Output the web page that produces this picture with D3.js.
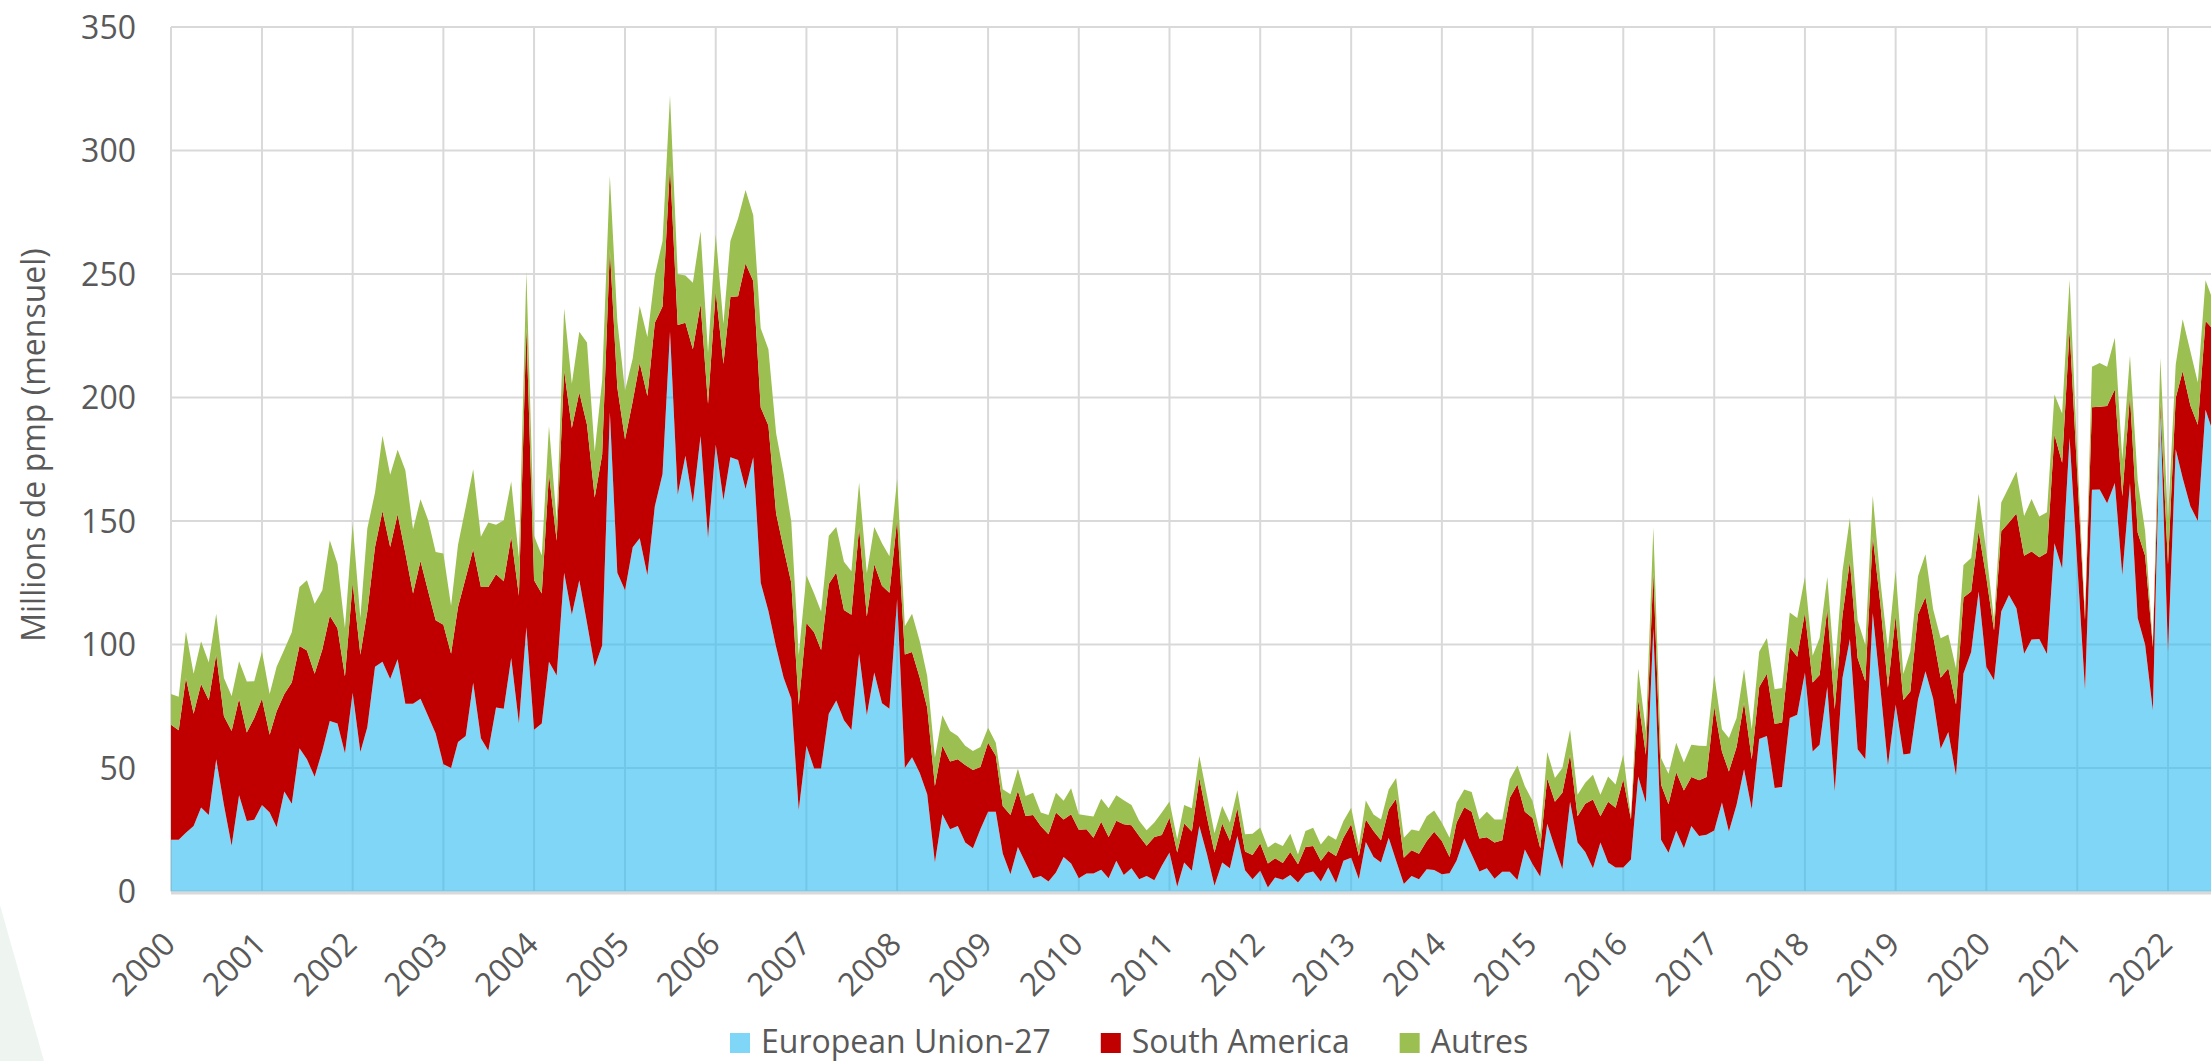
<!DOCTYPE html>
<html><head><meta charset="utf-8">
<script src="https://cdn.jsdelivr.net/npm/d3@7"></script>
<style>
html,body{margin:0;padding:0;background:#fff;}
svg{display:block;}
text{font-family:"Open Sans",sans-serif;fill:#595959;}
</style></head>
<body>
<svg id="chart" width="2211" height="1061"></svg>
<script>
// ---- DATA (monthly, Jan 2000 onward) ----
const startYear = 2000;
const seriesNames = ["European Union-27", "South America", "Autres"];
const seriesColors = ["#2ABBF2", "#C00000", "#9BBF50"];
const yTicks = [0, 50, 100, 150, 200, 250, 300, 350];
const xTickYears = [2000,2001,2002,2003,2004,2005,2006,2007,2008,2009,2010,2011,2012,2013,2014,2015,2016,2017,2018,2019,2020,2021,2022];

const eu27 = [
21,21,23.8,26.5,34,31,53.5,35,18.5,39,28.5,29,
35,32,26,40.5,35.5,58,53.5,46.5,57,69,68,56,
80.5,56.5,66.5,91,93,86,94,76,76,78,71,64,
51.5,50,60.5,63,84.5,62,57,74.5,74,94.5,68,107,
65.5,68,93,87.5,129,112,126,108.7,91,99.6,194,129,
122,139.4,143,128,156,169,226.6,160.6,176.4,157.4,184.4,143,
181,158.4,175.8,174.7,163,175.8,125,113.6,99,86.6,78,33,
59,49.8,49.8,72,77.3,69.3,65.4,96.3,71.4,88.7,76.2,74,
118.4,50,54.4,48,39.4,11.7,31.3,25.2,26.5,19.8,17.5,25.2,
32.3,32.3,15.4,7,18,11.5,5.4,6.3,4,7.7,14,11.3,
5.4,7.3,7.3,8.8,5.4,12.4,6.7,9.4,5,6.3,4.6,10.4,
15.8,1.9,11.7,8.4,26.5,15,2.3,11.7,9.4,22.5,8.6,5,
8.4,1.6,5.7,4.8,6.7,3.6,7.3,8.1,4,9.7,3.4,12.4,
13.7,5,20,14,11.7,21.8,12.4,3,6.3,5,9,8.7,
7,7.4,12.4,21.5,15,8.1,9.4,5.2,8,8,4.7,17,
11,6,27.4,17.7,9,36.3,19.8,16,9.4,19.8,11.7,9.7,
9.7,13,46.6,35.9,106.5,21,15.7,24.6,17.5,26.5,22.5,23,
24.7,36,24.3,35.1,49.5,33.3,61.7,63,41.9,42.3,70.2,71.6,
88.7,56.7,59.4,82.8,40.5,86.4,102.2,57.6,53.5,112.8,82,51,
75.7,55.5,55.9,77.6,89.2,78,57.8,64.6,46.9,88.3,97,121.5,
90.9,85.5,113.4,120,114.7,96.3,102,102.2,96.2,141,130.8,183.6,
132.5,81.7,162.7,162.8,157.2,165.4,128,165.3,110.7,99.9,73.3,195.3,
97.2,179,167.4,156,150,195,186
];
const southAmerica = [
46.5,44.3,62.6,45.5,50,46.4,42.5,36,46.5,39,35.9,41.2,
43,31.5,47,39.5,49.1,41.4,44.1,41.7,41,42.6,38.6,31,
44.3,39.3,46.9,48.5,61,53.5,58.7,61,44.6,55.8,50.5,45.8,
56.5,46.3,54.7,64,54.1,61.3,66.3,53.9,51.6,49.1,51.7,121.6,
60.5,52.6,76,54.5,81.8,75.7,76,80.3,68.5,77.2,66,75,
61,59.1,71,72.6,74.3,67.8,67.1,68.8,53.9,62.1,53.5,54.4,
61.9,55.2,64.9,66.3,91.3,71.4,71,75.1,54,52.4,47,42.5,
49.7,55.2,48,52.5,51.9,44.7,46.6,50.9,39.9,43.8,47.6,47,
32,46,42.6,38.5,35,31,27.7,27.4,27,31.4,31.7,25.2,
27.9,22.7,19.2,24,22.7,19.1,25.6,20.2,19.2,24.3,15.2,20,
19.6,17.9,14.5,19.4,16.7,16.2,20.5,17.4,17.5,12.2,17.5,12.5,
14.1,13.9,15.8,15.9,19.5,15,13.5,15.8,11.1,11.2,7.6,9.8,
11,9.7,7.8,6.7,9.3,7.4,10.7,10.3,8.4,6.7,11,9.4,
13.5,9.4,9.2,10.5,9,11.4,25.2,10.7,10.4,10.3,11.4,15.5,
13.4,6.6,15.4,12.6,17.3,13.4,12.6,14.6,12.7,29.9,38.6,15.3,
18.8,11.5,18.3,18.6,31,19.1,10.7,19.5,27.8,10.7,24.6,24.2,
35.6,16.2,31,19.5,22.8,22.3,19.6,23.7,23.4,19.9,22.5,23.4,
50,20.7,24.3,23.4,27,20.2,21.1,25.2,26,26.1,28.8,23.4,
24.2,27.9,28.3,31.5,33.3,25.2,31.6,36.9,31.6,30.8,34,31.5,
35.7,22,25.1,34.6,29.9,25.3,28.7,25.8,28.8,30.7,24.5,24.3,
36.1,20.2,32.4,29.4,38.3,39.6,35.7,33.1,40.9,44,42.8,43.7,
36,28.2,33.4,33.5,39.4,37.8,32,35.4,34.6,36,25.7,2.7,
35.1,20.8,43.2,40.8,39,36,41.6
];
const autres = [
12.5,13.5,18.9,16.2,17.3,15.3,16.5,15.4,14.2,15.2,20.6,14.9,
19.2,16.5,18,18,20.4,23.9,28.4,28.3,24,30.6,26.1,19.7,
24.1,14.9,33.6,22,30.5,29.2,26.1,33.5,26.1,25,28.8,27.6,
28.8,19.4,25.2,28.7,32.4,20.3,26.1,20.1,24.7,22.4,15.3,22.4,
18,15.4,19.5,8,25.2,17.9,24.6,33.3,18.5,30.2,29.8,27,
19.8,17.3,23,23.9,19.1,26.6,28.6,20.6,19.1,27,29.4,20.6,
23.1,16.3,22.7,31.5,29.7,26.6,32,30.8,32.5,30.3,24.8,20.2,
19.3,15.6,15.6,19.5,18.4,19.5,17.7,18.4,17.5,15.1,17.2,14.7,
16.6,11.4,15.4,14.8,12.8,11.5,12.4,12.4,9.5,7.8,7.7,8.1,
6.1,5.2,6.8,8.4,9,8.1,9,5.5,7.8,8,7.5,10.5,
6.3,5.6,8.6,9.4,11.6,10.4,9.7,8.2,6.1,6.3,5.8,9.1,
6.5,5.4,7.5,9.4,8.9,9,7.8,7.1,7.4,7.3,7,8.6,
6.5,6.5,6.3,6.9,7.4,4,6.5,7.4,6.6,6.4,6.6,6.7,
6.7,4,7.6,6.7,8.5,8.1,8.4,8.1,8.4,9.2,10.1,8.6,
7.4,7.8,8.1,7.2,8,7.7,10.3,9.4,8.5,7.4,7.7,10.3,
6.8,5.6,10.8,9.7,10,10.1,8.7,8.5,10.1,8.7,10.3,9.4,
10.1,0.8,12.7,9.4,18.1,10.7,12.4,11.9,11.3,13,14,12.5,
13,9,13.5,11.7,13.5,12.2,14.4,14.4,14,14,14,15.7,
14.4,10.8,14.9,13,15.3,18,17.4,15.3,14.8,16.6,9.5,15.5,
18.6,10.6,16.3,15.4,17.4,11,16,13.6,14.6,13.2,13.5,15.2,
10.7,4.1,11.7,14.4,17,16.1,21.2,16.5,16.4,16.2,19.9,20.4,
8.5,1.8,16.4,17.7,15.9,21,15,16.3,21.2,9.9,0.9,18,
18,13.5,21.1,21.9,17.1,16.5,11.7
];

// ---- CHART ----
const W = 2211, H = 1061;
const svg = d3.select("#chart");
const months = eu27.map((_, i) => new Date(startYear, i, 1));
const rows = months.map((d, i) => ({date: d, eu: eu27[i], sa: southAmerica[i], au: autres[i]}));

const x = d3.scaleTime()
  .domain([new Date(2000, 0, 1), new Date(2022, 0, 1)])
  .range([171, 2168]);
const y = d3.scaleLinear().domain([0, 350]).range([891.5, 27]);

// watermark hint bottom-left
svg.append("path")
  .attr("d", "M0,905 L44,1061 L0,1061 Z")
  .attr("fill", "#eef5f0");

// gridlines
const grid = svg.append("g");
grid.selectAll("line.h").data(yTicks).join("line")
  .attr("x1", 171).attr("x2", W)
  .attr("y1", d => y(d)).attr("y2", d => y(d))
  .attr("stroke", "#d9d9d9").attr("stroke-width", 2);
grid.selectAll("line.v").data(xTickYears).join("line")
  .attr("x1", d => x(new Date(d, 0, 1))).attr("x2", d => x(new Date(d, 0, 1)))
  .attr("y1", y(350)).attr("y2", y(0))
  .attr("stroke", "#d9d9d9").attr("stroke-width", 2);

// stacked areas
const stack = d3.stack().keys(["eu", "sa", "au"]);
const layers = stack(rows);
const area = d3.area()
  .x(d => x(d.data.date))
  .y0(d => y(d[0]))
  .y1(d => y(d[1]));
svg.append("g").selectAll("path").data(layers).join("path")
  .attr("d", area)
  .attr("fill", (d, i) => seriesColors[i])
  .attr("fill-opacity", (d, i) => i === 0 ? 0.6 : 1);

// x axis line
svg.append("line")
  .attr("x1", 171).attr("x2", W)
  .attr("y1", y(0) + 1.5).attr("y2", y(0) + 1.5)
  .attr("stroke", "#d9d9d9").attr("stroke-width", 3);

// y tick labels
svg.append("g").selectAll("text").data(yTicks).join("text")
  .attr("x", 136).attr("y", d => y(d))
  .attr("dy", "0.36em")
  .attr("text-anchor", "end")
  .attr("font-size", 32)
  .text(d => d);

// x tick labels
svg.append("g").selectAll("text").data(xTickYears).join("text")
  .attr("transform", d => `translate(${x(new Date(d, 0, 1)) - 2},938) rotate(-45)`)
  .attr("dy", "0.36em")
  .attr("text-anchor", "end")
  .attr("font-size", 32)
  .text(d => d);

// y axis title
svg.append("text")
  .attr("transform", "translate(33,445) rotate(-90)")
  .attr("dy", "0.36em")
  .attr("text-anchor", "middle")
  .attr("font-size", 32)
  .text("Millions de pmp (mensuel)");

// legend
const legend = svg.append("g");
let lx = 730;
seriesNames.forEach((name, i) => {
  legend.append("rect").attr("x", lx).attr("y", 1033).attr("width", 20).attr("height", 20)
    .attr("fill", seriesColors[i]).attr("fill-opacity", i === 0 ? 0.6 : 1);
  const t = legend.append("text").attr("x", lx + 31).attr("y", 1053)
    .attr("font-size", 32).text(name);
  lx = lx + 31 + t.node().getComputedTextLength() + 50;
});
</script>
</body></html>
